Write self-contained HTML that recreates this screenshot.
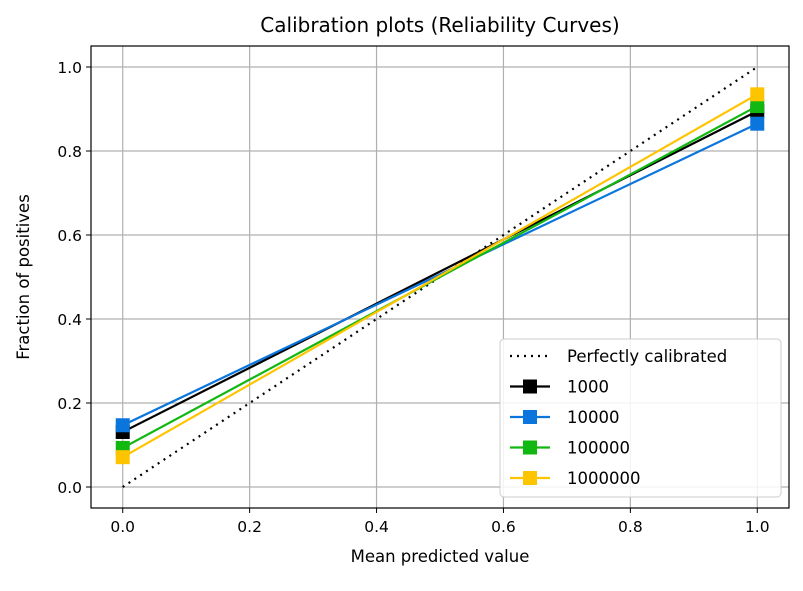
<!DOCTYPE html>
<html><head><meta charset="utf-8"><style>
body{margin:0;background:#fff;font-family:"Liberation Sans","DejaVu Sans",sans-serif}
text{font-family:"DejaVu Sans","Liberation Sans",sans-serif;}
</style></head><body>
<svg id="c" width="803" height="586"></svg>
<script>
const xTicks=[0,0.2,0.4,0.6,0.8,1.0];
const yTicks=[0,0.2,0.4,0.6,0.8,1.0];
const xVals=[0,1];
const seriesNames=["1000","10000","100000","1000000"];
const s1000=[0.131,0.895];
const s10000=[0.147,0.865];
const s100000=[0.093,0.907];
const s1000000=[0.071,0.935];
const perfect=[0,1];
const seriesValues=[s1000,s10000,s100000,s1000000];
const colors=["#000000","#0a75dd","#11b811","#ffc400"];
const L=91,R=789,T=46,B=508;
const X=v=>L+(v+0.05)/1.1*(R-L);
const Y=v=>B-(v+0.05)/1.1*(B-T);
const svg=document.getElementById('c');
const NS='http://www.w3.org/2000/svg';
function mk(t,a,p){const e=document.createElementNS(NS,t);for(const k in a)e.setAttribute(k,a[k]);(p||svg).appendChild(e);return e;}
const title=mk('text',{x:440,y:32,'text-anchor':'middle','font-size':20});title.textContent='Calibration plots (Reliability Curves)';


xTicks.forEach(v=>{
 const g=mk('line',{x1:X(v),x2:X(v),y1:T,y2:B,stroke:'#b0b0b0','stroke-width':1.2});
 
 
 mk('line',{x1:X(v),x2:X(v),y1:B,y2:B+5,stroke:'#000'});
 const t=mk('text',{x:X(v),y:B+24,'text-anchor':'middle','font-size':15.5});t.textContent=v.toFixed(1);
 
 
});
yTicks.forEach(v=>{
 const g=mk('line',{x1:L,x2:R,y1:Y(v),y2:Y(v),stroke:'#b0b0b0','stroke-width':1.2});
 
 
 mk('line',{x1:L-5,x2:L,y1:Y(v),y2:Y(v),stroke:'#000'});
 const t=mk('text',{x:L-9,y:Y(v)+6,'text-anchor':'end','font-size':15.5});t.textContent=v.toFixed(1);
 
 
});
const xl=mk('text',{x:440,y:562,'text-anchor':'middle','font-size':16.5});xl.textContent='Mean predicted value';


const yl=mk('text',{x:29,y:277,'text-anchor':'middle','font-size':16.5,transform:'rotate(-90 29 277)'});yl.textContent='Fraction of positives';


const pl=mk('polyline',{points:xVals.map((x,i)=>X(x)+','+Y(perfect[i])).join(' '),fill:'none',stroke:'#000','stroke-width':2.2,'stroke-dasharray':'2,5'});


seriesValues.forEach((s,k)=>{
 const p=mk('polyline',{points:xVals.map((x,i)=>X(x)+','+Y(s[i])).join(' '),fill:'none',stroke:colors[k],'stroke-width':2.2});
 
 
 s.forEach((v,i)=>{
  const m=mk('rect',{x:X(xVals[i])-7,y:Y(v)-7,width:14,height:14,fill:colors[k]});
  
  
 });
});
mk('rect',{x:L,y:T,width:R-L,height:B-T,fill:'none',stroke:'#000','stroke-width':1.2});
const lg=mk('g',{});


mk('rect',{x:500,y:339,width:281,height:158,rx:4,fill:'#fff','fill-opacity':0.85,stroke:'#ccc'},lg);
const names=['Perfectly calibrated'].concat(seriesNames);
names.forEach((n,i)=>{
 const y=356+i*30.5;
 if(i==0) mk('line',{x1:510,x2:550,y1:y,y2:y,stroke:'#000','stroke-width':2.2,'stroke-dasharray':'2,5'},lg);
 else{mk('line',{x1:510,x2:550,y1:y,y2:y,stroke:colors[i-1],'stroke-width':2.2},lg);mk('rect',{x:523,y:y-7,width:14,height:14,fill:colors[i-1]},lg);}
 const t=mk('text',{x:567,y:y+6,'font-size':16.5},lg);t.textContent=n;
 
 
});
</script>
</body></html>
